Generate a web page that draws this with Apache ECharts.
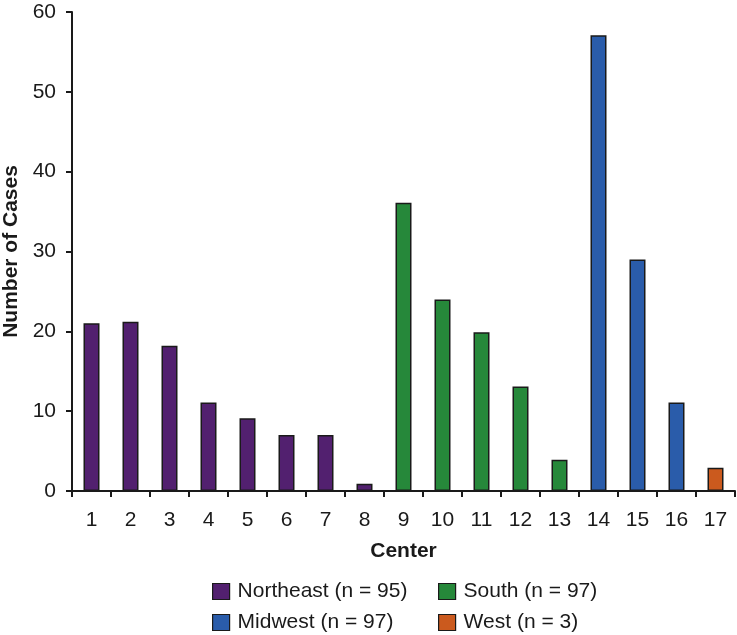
<!DOCTYPE html>
<html><head><meta charset="utf-8">
<script src="https://cdn.jsdelivr.net/npm/echarts@6/dist/echarts.min.js"></script>
<style>html,body{margin:0;padding:0;background:#fff}#c{width:737px;height:635px}</style>
</head><body><div id="c"></div>
<script>
var categories = ['1','2','3','4','5','6','7','8','9','10','11','12','13','14','15','16','17'];
var northeast = [21, 21.2, 18.2, 11.1, 9.1, 7, 7, 0.9, null, null, null, null, null, null, null, null, null];
var south     = [null, null, null, null, null, null, null, null, 36.1, 24, 19.9, 13.1, 3.9, null, null, null, null];
var midwest   = [null, null, null, null, null, null, null, null, null, null, null, null, null, 57.1, 29, 11.1, null];
var west      = [null, null, null, null, null, null, null, null, null, null, null, null, null, null, null, null, 2.9];
var seriesNames = ['Northeast (n = 95)', 'South (n = 97)', 'Midwest (n = 97)', 'West (n = 3)'];
var colors = ['#52206f', '#26883a', '#2a5caa', '#cb5a1e'];
var yTicks = [0, 10, 20, 30, 40, 50, 60];

var font = 'Liberation Sans, Arial, Helvetica, sans-serif';
var chart = echarts.init(document.getElementById('c'));
var dataSets = [northeast, south, midwest, west];
var series = dataSets.map(function (d, i) {
  return {
    name: seriesNames[i], type: 'bar', stack: 'all', data: d, barWidth: 16,
    itemStyle: { color: colors[i], borderColor: '#1a1a1a', borderWidth: 1.5 }
  };
});
function leg(name, left, top) {
  return {
    data: [name], left: left, top: top, itemWidth: 17, itemHeight: 16, itemGap: 0,
    padding: 0, icon: 'rect',
    itemStyle: { borderColor: '#1a1a1a', borderWidth: 1.2 },
    textStyle: { fontSize: 21, color: '#1a1a1a', fontFamily: font, padding: [0, 0, 0, 3] }
  };
}
chart.setOption({
  animation: false,
  color: colors,
  grid: { left: 72, right: 2, top: 12, bottom: 144, containLabel: false, outerBoundsMode: 'none' },
  legend: [
    leg(seriesNames[0], 212, 581),
    leg(seriesNames[1], 438, 581),
    leg(seriesNames[2], 212, 612),
    leg(seriesNames[3], 438, 612)
  ],
  xAxis: {
    type: 'category', data: categories,
    name: 'Center', nameLocation: 'middle', nameGap: 50,
    nameTextStyle: { fontSize: 21, fontWeight: 'bold', color: '#1a1a1a', fontFamily: font },
    axisLine: { lineStyle: { color: '#1a1a1a', width: 2 } },
    axisTick: { show: true, length: 6, lineStyle: { color: '#1a1a1a', width: 2 } },
    axisLabel: { fontSize: 21, color: '#1a1a1a', fontFamily: font, margin: 19 }
  },
  yAxis: {
    type: 'value', min: yTicks[0], max: yTicks[yTicks.length - 1], interval: 10,
    name: 'Number of Cases', nameLocation: 'middle', nameGap: 50,
    nameTextStyle: { fontSize: 21, fontWeight: 'bold', color: '#1a1a1a', fontFamily: font },
    axisLine: { show: true, lineStyle: { color: '#1a1a1a', width: 2 } },
    axisTick: { show: true, length: 6, lineStyle: { color: '#1a1a1a', width: 2 } },
    splitLine: { show: false },
    axisLabel: { fontSize: 21, color: '#1a1a1a', fontFamily: font, margin: 16 }
  },
  series: series
});
</script></body></html>
